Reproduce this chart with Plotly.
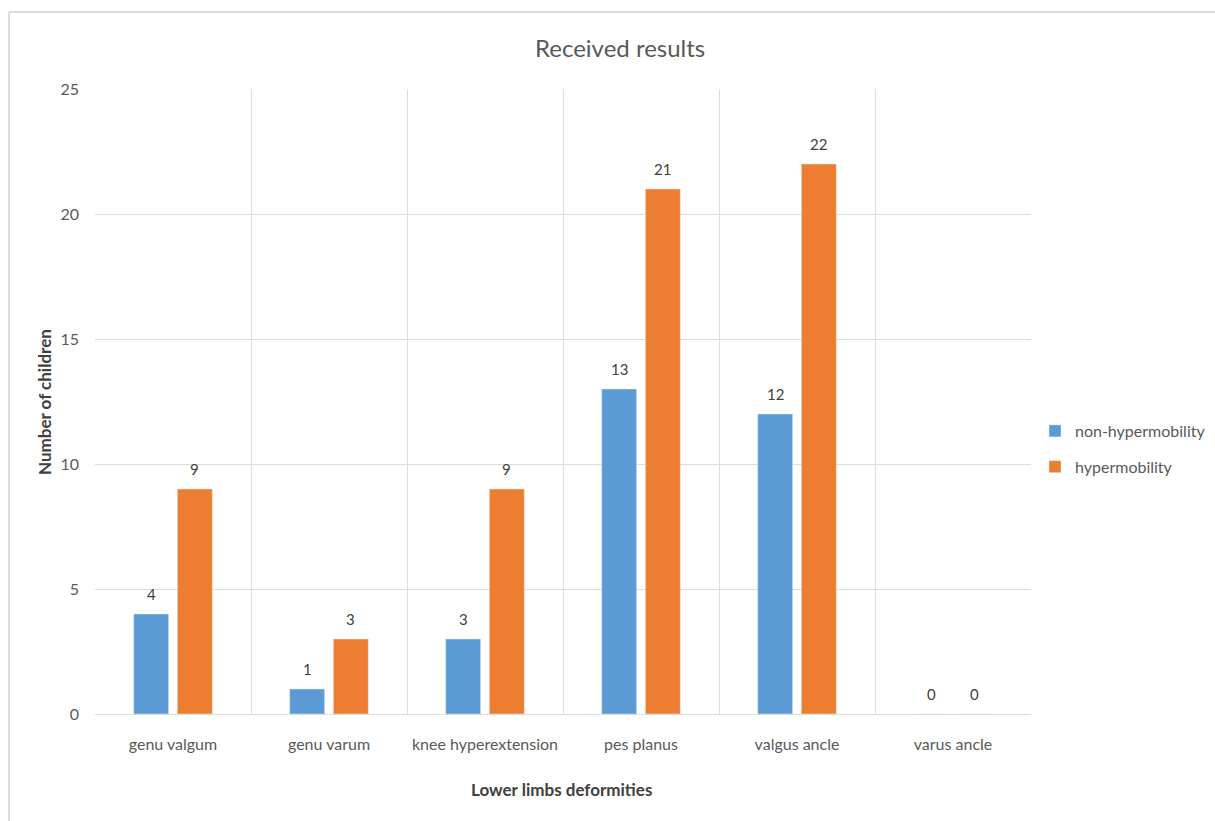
import plotly.graph_objects as go

categories = ["genu valgum", "genu varum", "knee hyperextension", "pes planus", "valgus ancle", "varus ancle"]
non_hypermobility = [4, 1, 3, 13, 12, 0]
hypermobility = [9, 3, 9, 21, 22, 0]
y_ticks = [0, 5, 10, 15, 20, 25]

BLUE = "#5B9BD5"
ORANGE = "#ED7D31"
GRID = "#DCDCDC"
TEXT = "#595959"
LABEL = "#404040"
FONT = "Lato, 'Open Sans', sans-serif"

W, H = 1215, 821
L, R, T, B = 95, 184, 89, 107
pw, ph = W - L - R, H - T - B
BARGAP, GROUPGAP = 0.44, 0.2


def px_x(px):
    return (px - L) / pw


def px_y(py):
    return (H - B - py) / ph


fig = go.Figure()
series = [("non-hypermobility", non_hypermobility, BLUE),
          ("hypermobility", hypermobility, ORANGE)]
for name, values, color in series:
    fig.add_trace(go.Bar(
        name=name, x=categories, y=values, marker_color=color,
        legendgroup=name,
    ))

# value labels above each bar, shifted to the bar's slot inside its group
cat_w = pw / len(categories)
slot = cat_w * (1 - BARGAP) / len(series)
annotations = []
for i, (name, values, color) in enumerate(series):
    shift = (i - (len(series) - 1) / 2) * slot
    for cat, v in zip(categories, values):
        annotations.append(dict(
            x=cat, y=v, xref="x", yref="y", text=str(v), showarrow=False,
            xshift=shift, yshift=20, xanchor="center", yanchor="middle",
            font=dict(size=15, color=LABEL, family=FONT),
        ))

annotations += [
    dict(text="Received results", x=px_x(620), y=px_y(48), xref="paper", yref="paper",
         showarrow=False, font=dict(size=24, color=TEXT, family=FONT),
         xanchor="center", yanchor="middle"),
    dict(text="<b>Number of children</b>", x=px_x(44), y=px_y(402), xref="paper", yref="paper",
         showarrow=False, textangle=-90, font=dict(size=17, color=LABEL, family=FONT),
         xanchor="center", yanchor="middle"),
    dict(text="<b>Lower limbs deformities</b>", x=px_x(561), y=px_y(789), xref="paper", yref="paper",
         showarrow=False, font=dict(size=17, color=LABEL, family=FONT),
         xanchor="center", yanchor="middle"),
]

fig.update_layout(
    width=W, height=H,
    margin=dict(l=L, r=R, t=T, b=B, pad=0, autoexpand=False),
    paper_bgcolor="white", plot_bgcolor="white",
    font=dict(family=FONT, color=TEXT, size=16),
    barmode="group", bargap=BARGAP, bargroupgap=GROUPGAP,
    showlegend=True,
    legend=dict(
        xref="container", yref="container",
        x=1035 / W, y=1 - 449 / H, xanchor="left", yanchor="middle",
        font=dict(size=16, color=TEXT), itemwidth=30,
        traceorder="grouped", tracegroupgap=12,
        bgcolor="rgba(0,0,0,0)",
    ),
    xaxis=dict(
        tickson="boundaries", showgrid=True, gridcolor=GRID, gridwidth=1,
        showline=True, linecolor=GRID, ticks="", tickfont=dict(size=16, color=TEXT),
        ticklabelstandoff=16, zeroline=False,
    ),
    yaxis=dict(
        range=[0, 25], tickvals=y_ticks, showgrid=True, gridcolor=GRID, gridwidth=1,
        showline=False, zeroline=False, ticks="", tickfont=dict(size=16, color=TEXT),
        ticklabelstandoff=15,
    ),
    annotations=annotations,
    shapes=[
        dict(type="line", xref="paper", yref="paper", x0=px_x(9), x1=px_x(9),
             y0=px_y(12), y1=px_y(H + 5), line=dict(color="#D0D0D0", width=1.5)),
        dict(type="line", xref="paper", yref="paper", x0=px_x(9), x1=px_x(W + 5),
             y0=px_y(12), y1=px_y(12), line=dict(color="#D0D0D0", width=1.5)),
    ],
)

fig.write_html("out.html")
